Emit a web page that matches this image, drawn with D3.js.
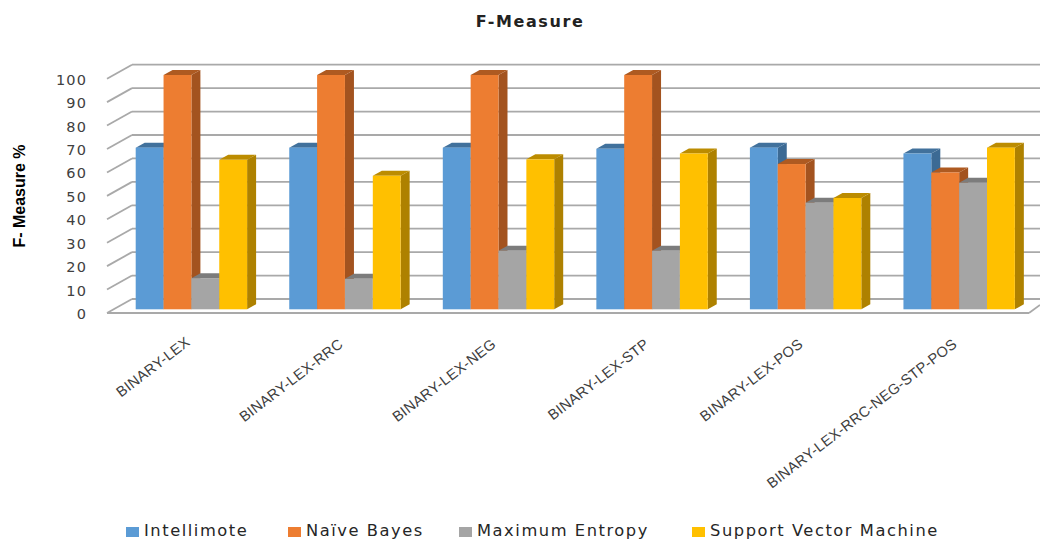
<!DOCTYPE html>
<html>
<head>
<meta charset="utf-8">
<script src="https://cdnjs.cloudflare.com/ajax/libs/d3/7.8.5/d3.min.js"></script>
<style>
html,body{margin:0;padding:0;background:#fff;overflow:hidden}
svg{display:block}
</style>
</head>
<body>
<div id="chart"></div>
<script>
const categories = ["BINARY-LEX","BINARY-LEX-RRC","BINARY-LEX-NEG","BINARY-LEX-STP","BINARY-LEX-POS","BINARY-LEX-RRC-NEG-STP-POS"];
const seriesNames = ["Intellimote","Naïve Bayes","Maximum Entropy","Support Vector Machine"];
const intellimote = [69,69,69,68.5,69,66.5];
const naiveBayes = [100,100,100,100,62,58.4];
const maximumEntropy = [13.3,13,25,25,45.5,54];
const supportVectorMachine = [63.8,57,64,66.5,47.5,69];
const allSeries = [intellimote,naiveBayes,maximumEntropy,supportVectorMachine];
const faceColors = ["#5b9bd5","#ed7d31","#a5a5a5","#ffc000"];
const topColors = ["#41719c","#ae5a21","#7c7c7c","#bc8c00"];
const sideColors = ["#3c6a94","#a3531f","#787878","#ae8100"];
const yTicks = [0,10,20,30,40,50,60,70,80,90,100];

const W = 1040, H = 540;
const svg = d3.select("#chart").append("svg").attr("width",W).attr("height",H);

// Oblique projection: the front plane sits at the axis, the back wall is offset up and right.
const y = d3.scaleLinear().domain([0,100]).range([309.3,75]);
const groupX = d3.scaleBand().domain(categories).range([135.7,135.7+153.55*6]);
const barX = d3.scaleBand().domain(d3.range(4)).range([0,111.4]);
const depthX = 9, depthY = 5;
const wallFrontX = 107, wallBackX = 132, wallRightX = 1040, floorRightX = 1029;
const frontShift = 3.7, backShift = -10.3;

// Walls and floor
const grid = svg.append("g").attr("fill","none").attr("stroke","#a9a9a9").attr("stroke-width",1.8);
grid.selectAll("line.back").data(yTicks).join("line").attr("class","back")
  .attr("x1",wallBackX).attr("x2",wallRightX)
  .attr("y1",d=>y(d)+backShift).attr("y2",d=>y(d)+backShift);
grid.selectAll("line.side").data(yTicks).join("line").attr("class","side")
  .attr("x1",wallFrontX).attr("x2",wallBackX)
  .attr("y1",d=>y(d)+frontShift).attr("y2",d=>y(d)+backShift);
grid.append("line").attr("x1",wallFrontX).attr("x2",floorRightX)
  .attr("y1",y(0)+frontShift).attr("y2",y(0)+frontShift);
grid.append("line").attr("x1",floorRightX).attr("x2",wallRightX)
  .attr("y1",y(0)+frontShift).attr("y2",y(0)+frontShift-8);

// Bars: each group paints its side and top faces first, then the front
const bars = svg.append("g");
categories.forEach((cat,ci)=>{
  const g = bars.append("g").attr("transform",`translate(${groupX(cat)},0)`);
  allSeries.forEach((values,si)=>{
    const x0 = barX(si), x1 = x0+barX.bandwidth(), t = y(values[ci]), b = y(0);
    const pts = a => a.map(p=>p.join(",")).join(" ");
    g.append("polygon").attr("fill",sideColors[si])
      .attr("points",pts([[x1,t],[x1+depthX,t-depthY],[x1+depthX,b-depthY],[x1,b]]));
    g.append("polygon").attr("fill",topColors[si])
      .attr("points",pts([[x0,t],[x0+depthX,t-depthY],[x1+depthX,t-depthY],[x1,t]]));
    g.append("rect").attr("x",x0).attr("y",t).attr("width",x1-x0).attr("height",b-t).attr("fill",faceColors[si]);
  });
});

// Value axis labels
svg.append("g").selectAll("text").data(yTicks).join("text")
  .attr("x",87).attr("y",d=>y(d)+frontShift+2).attr("text-anchor","end")
  .attr("dominant-baseline","middle")
  .style("font-family","'DejaVu Sans'").style("font-size","14.5px").style("letter-spacing","1.1px")
  .attr("fill","#404040").text(d=>d);

// Category labels
svg.append("g").selectAll("text").data(categories).join("text")
  .attr("text-anchor","end")
  .style("font-family","'Liberation Sans'").style("font-size","14.6px").style("letter-spacing","0.3px")
  .attr("fill","#404040")
  .attr("transform",(d,i)=>`translate(${[191,344,497,650,804,958][i]},${[344,346,346,346,346,346][i]}) rotate(-37.5)`)
  .text(d=>d);

// Titles
svg.append("text").attr("x",530).attr("y",27).attr("text-anchor","middle")
  .style("font-family","'DejaVu Sans'").style("font-size","16px").style("font-weight","bold").style("letter-spacing","1.6px")
  .attr("fill","#222").text("F-Measure");
svg.append("text").attr("transform","translate(25,196) rotate(-90)").attr("text-anchor","middle")
  .style("font-family","'Liberation Sans Narrow','Liberation Sans'").style("font-size","16px").style("font-weight","bold")
  .attr("fill","#000").text("F- Measure %");

// Legend
const legendX = [126,288,459,692];
const legend = svg.append("g").selectAll("g").data(seriesNames).join("g")
  .attr("transform",(d,i)=>`translate(${legendX[i]},0)`);
legend.append("rect").attr("x",0).attr("y",527).attr("width",13).attr("height",10).attr("fill",(d,i)=>faceColors[i]);
legend.append("text").attr("x",18).attr("y",536)
  .style("font-family","'DejaVu Sans'").style("font-size","16.3px").style("letter-spacing","1.55px")
  .attr("fill","#262626").text(d=>d);
</script>
</body>
</html>
